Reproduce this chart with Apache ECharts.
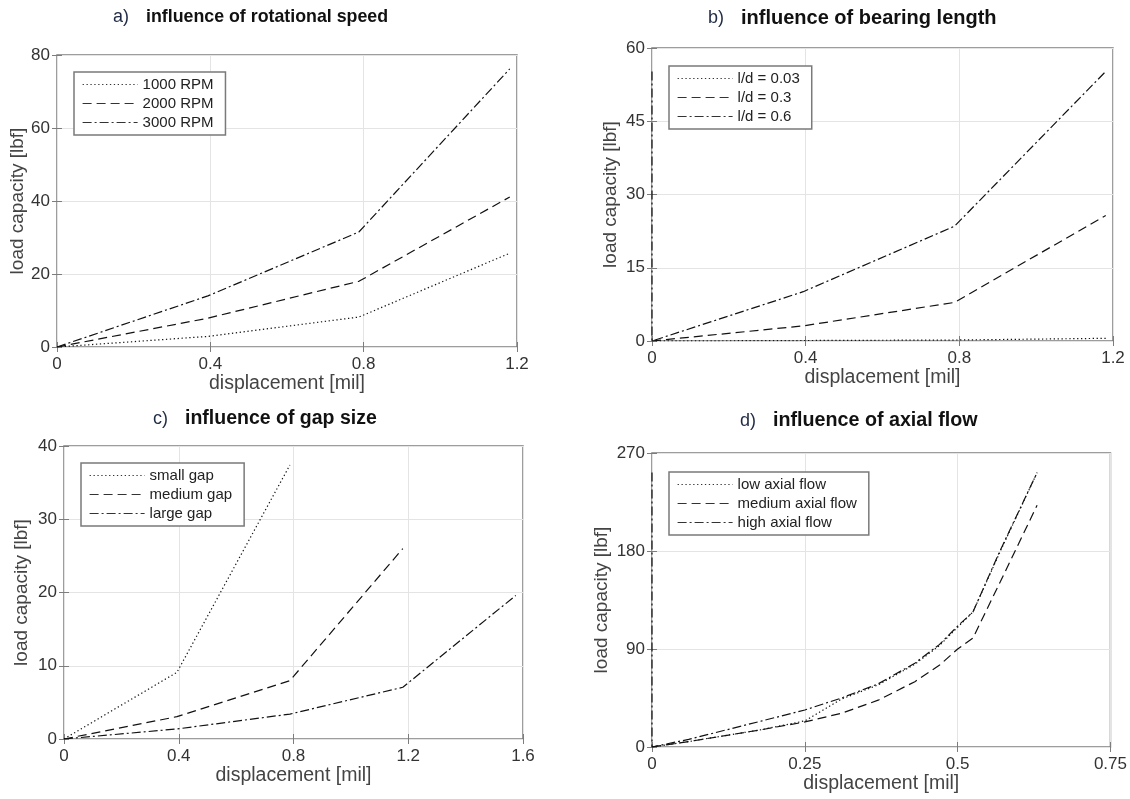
<!DOCTYPE html>
<html>
<head>
<meta charset="utf-8">
<title>Bearing load capacity</title>
<script src="https://cdn.jsdelivr.net/npm/echarts@6/dist/echarts.min.js"></script>
<style>
  html, body { margin: 0; padding: 0; background: #fff; }
  #chart { width: 1130px; height: 799px; }
</style>
</head>
<body>
<div id="chart"></div>
<script>
// Displacement steps in mil (10 µm increments)
const dispA = [0, 0.3937, 0.7874, 1.1811];
const rpm1000 = [0, 2.9, 8.2, 25.7];
const rpm2000 = [0, 7.9, 18.0, 41.1];
const rpm3000 = [0, 14.0, 31.5, 76.2];

const dispB = [0, 0.3937, 0.7874, 1.1811];
const ld003 = [0, 0.1, 0.2, 0.55];
const ld03 = [0, 3.1, 7.9, 25.7];
const ld06 = [0, 10.1, 23.5, 55.2];

const dispC = [0, 0.3937, 0.7874, 1.1811, 1.5748];
const smallGap = [0, 9.1, 37.4];
const mediumGap = [0, 3.05, 7.97, 26.0];
const largeGap = [0, 1.37, 3.4, 7.06, 19.6];

const dispD = [0, 0.06, 0.12, 0.18, 0.25, 0.31, 0.37, 0.43, 0.47, 0.50, 0.525, 0.57, 0.63];
const lowFlow = [0, 5, 10.5, 16, 24, 44, 57, 76, 93, 110, 124, 180, 252];
const mediumFlow = [0, 5, 10.5, 16, 23, 31, 43, 60, 75, 90, 100, 152, 222];
const highFlow = [0, 7, 15.5, 24, 34, 45, 58, 77, 94, 111, 124, 181, 252];

// Axis ranges and tick steps
const xTicksA = { max: 1.2, interval: 0.4 };
const yTicksA = { max: 80, interval: 20 };
const xTicksB = { max: 1.2, interval: 0.4 };
const yTicksB = { max: 60, interval: 15 };
const xTicksC = { max: 1.6, interval: 0.4 };
const yTicksC = { max: 40, interval: 10 };
const xTicksD = { max: 0.75, interval: 0.25 };
const yTicksD = { max: 270, interval: 90 };

const FONT = '"Liberation Sans", Arial, Helvetica, sans-serif';
const AXIS_GREY = '#7d7d7d';

const pairs = (xs, ys) => ys.map((y, i) => [xs[i], y]);

const DOT = [1.3, 2.6];
const DASH = [9, 5];
const DASHDOT = [9, 3, 2, 3];

function line(name, gi, data, dash) {
  return {
    type: 'line', name, xAxisIndex: gi * 2, yAxisIndex: gi * 2,
    data, symbol: 'none', silent: true, animation: false, z: 5,
    itemStyle: { color: '#111' },
    lineStyle: { color: '#111', width: 1.2, type: dash }
  };
}

const grids = [
  { left: 57, top: 55, width: 460, height: 292 },
  { left: 652, top: 48, width: 461, height: 293 },
  { left: 64, top: 446, width: 459, height: 293 },
  { left: 652, top: 453, width: 462, height: 294 }
].map(g => Object.assign(g, { show: true, borderColor: AXIS_GREY, borderWidth: 1.5, backgroundColor: '#fff' }));

const xNameGap = [27, 27, 27, 27];
const yNameGap = [30, 32, 33, 41];
const xTicks = [xTicksA, xTicksB, xTicksC, xTicksD];
const yTicks = [yTicksA, yTicksB, yTicksC, yTicksD];

const xAxes = [], yAxes = [];
for (let g = 0; g < 4; g++) {
  const tick = { show: true, inside: true, length: 5, lineStyle: { color: AXIS_GREY, width: 1 } };
  xAxes.push({
    type: 'value', gridIndex: g, position: 'bottom', min: 0,
    max: xTicks[g].max, interval: xTicks[g].interval,
    axisLine: { show: false }, axisTick: tick,
    axisLabel: { fontSize: 17, color: '#333', margin: 9, fontFamily: FONT },
    splitLine: { show: true, lineStyle: { color: '#e4e4e4', width: 1 } },
    name: 'displacement [mil]', nameLocation: 'middle', nameGap: xNameGap[g],
    nameTextStyle: { fontSize: 19.5, color: '#444', fontFamily: FONT }
  });
  xAxes.push({
    type: 'value', gridIndex: g, position: 'top', min: 0,
    max: xTicks[g].max, interval: xTicks[g].interval,
    axisLine: { show: false }, axisTick: tick,
    axisLabel: { show: false }, splitLine: { show: false }
  });
  yAxes.push({
    type: 'value', gridIndex: g, position: 'left', min: 0,
    max: yTicks[g].max, interval: yTicks[g].interval,
    axisLine: { show: false }, axisTick: tick,
    axisLabel: { fontSize: 17, color: '#333', margin: 7, fontFamily: FONT },
    splitLine: { show: true, lineStyle: { color: '#e4e4e4', width: 1 } },
    name: 'load capacity [lbf]', nameLocation: 'middle', nameGap: yNameGap[g],
    nameRotate: 90,
    nameTextStyle: { fontSize: 19, color: '#444', fontFamily: FONT }
  });
  yAxes.push({
    type: 'value', gridIndex: g, position: 'right', min: 0,
    max: yTicks[g].max, interval: yTicks[g].interval,
    axisLine: { show: false }, axisTick: tick,
    axisLabel: { show: false }, splitLine: { show: false }
  });
}

function panelTitle(tag, text, left, top, size) {
  return {
    text: '{p|' + tag + '}{b|' + text + '}', left, top, padding: 0,
    textStyle: {
      rich: {
        p: { fontSize: 18, fontWeight: 'normal', color: '#1f2a44', fontFamily: FONT, padding: [0, 17, 0, 0] },
        b: { fontSize: size, fontWeight: 'bold', color: '#111', fontFamily: FONT }
      }
    }
  };
}

// Legend keys show only the line pattern, no marker
function legend(names, left, top) {
  return {
    data: names, orient: 'vertical', left, top, selectedMode: false,
    itemWidth: 55, itemHeight: 14, itemGap: 4, padding: [5, 12, 5, 8],
    itemStyle: { color: 'rgba(0,0,0,0)', borderWidth: 0, opacity: 0 },
    lineStyle: { width: 1.2, color: '#333' },
    borderColor: '#7a7a7a', borderWidth: 1.5, backgroundColor: '#fff', borderRadius: 0,
    textStyle: { fontSize: 15, color: '#222', fontFamily: FONT }
  };
}

const option = {
  animation: false,
  backgroundColor: '#fff',
  title: [
    panelTitle('a)', 'influence of rotational speed', 113, 8, 17.8),
    panelTitle('b)', 'influence of bearing length', 708, 8, 20),
    panelTitle('c)', 'influence of gap size', 153, 409, 19.5),
    panelTitle('d)', 'influence of axial flow', 740, 411, 19.7)
  ],
  legend: [
    legend(['1000 RPM', '2000 RPM', '3000 RPM'], 74, 72),
    legend(['l/d = 0.03', 'l/d = 0.3', 'l/d = 0.6'], 669, 66),
    legend(['small gap', 'medium gap', 'large gap'], 81, 463),
    legend(['low axial flow', 'medium axial flow', 'high axial flow'], 669, 472)
  ],
  grid: grids,
  xAxis: xAxes,
  yAxis: yAxes,
  series: [
    line('1000 RPM', 0, pairs(dispA, rpm1000), DOT),
    line('2000 RPM', 0, pairs(dispA, rpm2000), DASH),
    line('3000 RPM', 0, pairs(dispA, rpm3000), DASHDOT),

    line('l/d = 0.03', 1, pairs(dispB, ld003), DOT),
    line('l/d = 0.3', 1, pairs(dispB, ld03), DASH),
    // the 0.6 curve also retraces its peak load down the zero-displacement axis
    line('l/d = 0.6', 1, [[0, ld06[ld06.length - 1]]].concat(pairs(dispB, ld06)), DASHDOT),

    line('small gap', 2, pairs(dispC, smallGap), DOT),
    line('medium gap', 2, pairs(dispC, mediumGap), DASH),
    line('large gap', 2, pairs(dispC, largeGap), DASHDOT),

    line('low axial flow', 3, pairs(dispD, lowFlow), DOT),
    line('medium axial flow', 3, pairs(dispD, mediumFlow), DASH),
    line('high axial flow', 3, [[0, highFlow[highFlow.length - 1]]].concat(pairs(dispD, highFlow)), DASHDOT)
  ]
};

const chart = echarts.init(document.getElementById('chart'), null, { renderer: 'canvas' });
chart.setOption(option);
</script>
</body>
</html>
